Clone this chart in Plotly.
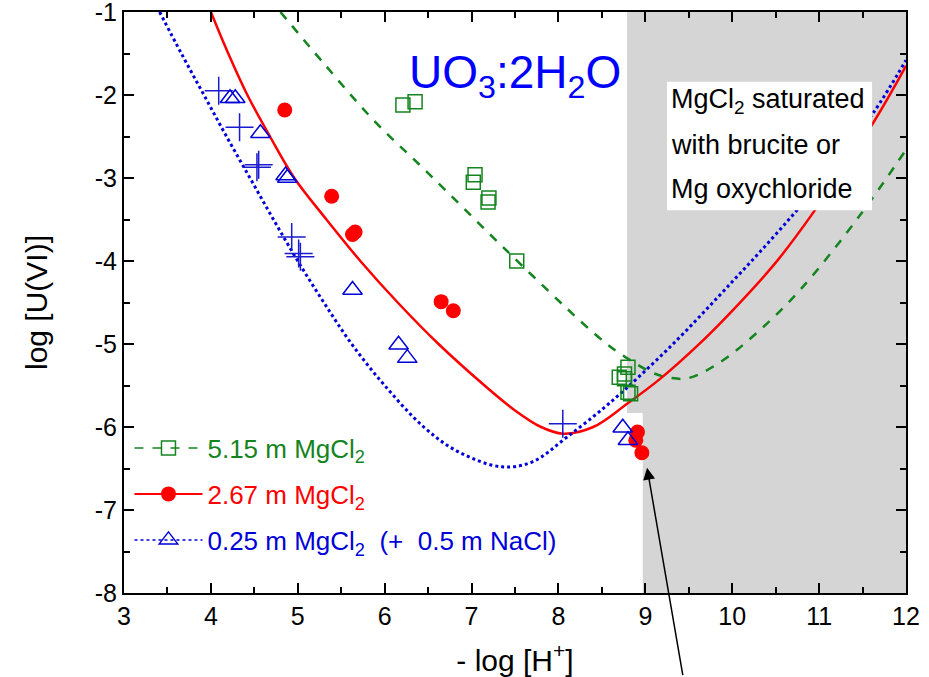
import plotly.graph_objects as go

# ---------------- data ----------------
# model curves: log[U(VI)] vs -log[H+]
ph_curve_515 = [4.80, 5.30, 5.87, 6.50, 7.36, 8.28, 8.57, 8.73, 9.09, 9.30, 9.50, 9.86, 10.30, 10.78, 11.47, 12.00]
logu_curve_515 = [-1.00, -1.62, -2.30, -2.94, -3.83, -4.75, -5.01, -5.13, -5.35, -5.41, -5.41, -5.22, -4.85, -4.35, -3.45, -2.66]

ph_curve_267 = [4.00, 4.20, 4.42, 4.68, 4.96, 5.33, 5.72, 6.15, 6.62, 7.15, 7.50, 7.80, 8.05, 8.40, 8.79, 9.17, 9.60, 10.00, 10.50, 10.93, 11.62, 12.00]
logu_curve_267 = [-1.00, -1.50, -2.00, -2.50, -3.00, -3.50, -4.00, -4.50, -5.00, -5.50, -5.80, -6.00, -6.08, -6.00, -5.72, -5.42, -5.02, -4.60, -4.02, -3.42, -2.34, -1.65]

ph_curve_025 = [3.41, 3.66, 3.92, 4.18, 4.45, 4.72, 5.00, 5.30, 5.62, 6.00, 6.45, 6.85, 7.35, 7.70, 8.10, 8.59, 9.28, 10.00, 10.50, 11.00, 11.62, 12.00]
logu_curve_025 = [-1.00, -1.50, -2.00, -2.50, -3.00, -3.50, -4.00, -4.50, -5.00, -5.50, -6.00, -6.30, -6.48, -6.42, -6.12, -5.71, -5.04, -4.25, -3.68, -3.07, -2.22, -1.58]

# experimental points
ph_exp_515 = [6.21, 6.35, 7.02, 7.04, 7.19, 7.20, 7.52, 8.80, 8.76, 8.70, 8.76, 8.80, 8.83]
logu_exp_515 = [-2.12, -2.08, -3.05, -2.96, -3.29, -3.24, -4.00, -5.28, -5.36, -5.40, -5.42, -5.58, -5.60]

ph_exp_267 = [4.85, 5.39, 5.66, 5.63, 6.65, 6.79, 8.91, 8.89, 8.96]
logu_exp_267 = [-2.18, -3.22, -3.65, -3.68, -4.49, -4.60, -6.06, -6.16, -6.31]

ph_exp_025 = [4.22, 4.28, 4.57, 4.88, 4.86, 5.63, 6.16, 6.26, 8.74, 8.80]
logu_exp_025 = [-2.04, -2.04, -2.46, -3.00, -2.97, -4.35, -5.01, -5.17, -6.01, -6.16]

ph_exp_nacl = [4.09, 4.33, 4.53, 4.55, 4.93, 5.03, 5.01, 8.05]
logu_exp_nacl = [-1.95, -2.39, -2.87, -2.84, -3.71, -3.95, -3.91, -5.96]

# shaded region (MgCl2 saturated), with notch around low points
shade_x = [8.79, 12.0, 12.0, 8.97, 8.97, 8.79, 8.79]
shade_y = [-1.0, -1.0, -8.0, -8.0, -5.83, -5.83, -1.0]

x_ticks = [3, 4, 5, 6, 7, 8, 9, 10, 11, 12]
x_ticktext = ["3", "4", "5", "6", "7", "8", "9", "10", "11", "12"]
y_ticks = [-1, -2, -3, -4, -5, -6, -7, -8]
y_ticktext = ["-1", "-2", "-3", "-4", "-5", "-6", "-7", "-8"]

names = [
    '<span style="color:#14841e">5.15 m MgCl<sub>2</sub></span>',
    '<span style="color:#ff0000">2.67 m MgCl<sub>2</sub></span>',
    '<span style="color:#0000d8">0.25 m MgCl<sub>2</sub>  (+  0.5 m NaCl)</span>',
]

GREEN = "#14841e"
RED = "#ff0000"
BLUE = "#0000d8"
FONT = "Liberation Sans, Arial, sans-serif"

fig = go.Figure()

fig.add_trace(go.Scatter(x=shade_x, y=shade_y, fill="toself", fillcolor="#d5d5d5",
                         line=dict(width=0), mode="lines", showlegend=False, hoverinfo="skip"))

# model curves
fig.add_trace(go.Scatter(x=ph_curve_515, y=logu_curve_515, mode="lines",
                         line=dict(color=GREEN, width=2.5, dash="dash", shape="spline", smoothing=1.0),
                         showlegend=False))
fig.add_trace(go.Scatter(x=ph_curve_267, y=logu_curve_267, mode="lines",
                         line=dict(color=RED, width=2.5, shape="spline", smoothing=1.0),
                         showlegend=False))
fig.add_trace(go.Scatter(x=ph_curve_025, y=logu_curve_025, mode="lines",
                         line=dict(color=BLUE, width=3, dash="dot", shape="spline", smoothing=1.0),
                         showlegend=False))

# experimental data
sq_marker = dict(symbol="square-open", size=14, color=GREEN, line=dict(color=GREEN, width=1.5))
ci_marker = dict(symbol="circle", size=15, color=RED)
tr_marker = dict(symbol="triangle-up-open", size=17, color=BLUE, line=dict(color=BLUE, width=1.5))

fig.add_trace(go.Scatter(x=ph_exp_nacl, y=logu_exp_nacl, mode="markers",
                         marker=dict(symbol="cross-thin-open", size=20, color="#1a1ad0",
                                     line=dict(color="#1a1ad0", width=1.5)),
                         showlegend=False))
fig.add_trace(go.Scatter(x=ph_exp_515, y=logu_exp_515, mode="markers", marker=sq_marker, showlegend=False))
fig.add_trace(go.Scatter(x=ph_exp_267, y=logu_exp_267, mode="markers", marker=ci_marker, showlegend=False))
fig.add_trace(go.Scatter(x=ph_exp_025, y=logu_exp_025, mode="markers", marker=tr_marker, showlegend=False))

# legend-only entries (line + marker), each in its own legend box
fig.add_trace(go.Scatter(x=[None], y=[None], mode="lines+markers", name=names[0], legend="legend",
                         line=dict(color=GREEN, width=1.5, dash="dash"), marker=sq_marker))
fig.add_trace(go.Scatter(x=[None], y=[None], mode="lines+markers", name=names[1], legend="legend2",
                         line=dict(color=RED, width=2), marker=ci_marker))
fig.add_trace(go.Scatter(x=[None], y=[None], mode="lines+markers", name=names[2], legend="legend3",
                         line=dict(color=BLUE, width=1.5, dash="dot"), marker=tr_marker))

axis_common = dict(showline=True, linecolor="black", linewidth=2, mirror="ticks",
                   ticks="inside", ticklen=10, tickwidth=1.5, tickcolor="black",
                   showgrid=False, zeroline=False, ticklabeloverflow="allow", automargin=False,
                   tickfont=dict(family=FONT, size=25, color="black"),
                   minor=dict(ticks="inside", ticklen=6, tickwidth=1.5, tickcolor="black", dtick=0.5))

fig.update_xaxes(range=[3, 12], tickvals=x_ticks, ticktext=x_ticktext,
                 title=dict(text="- log [H<sup>+</sup>]", font=dict(family=FONT, size=30, color="black"), standoff=22),
                 **axis_common)
fig.update_yaxes(range=[-8, -1], tickvals=y_ticks, ticktext=y_ticktext,
                 title=dict(text="log [U(VI)]", font=dict(family=FONT, size=30, color="black"), standoff=38),
                 **axis_common)

fig.add_annotation(x=7.5, y=-1.77, xref="x", yref="y", text="UO<sub>3</sub>:2H<sub>2</sub>O",
                   showarrow=False, font=dict(family=FONT, size=46, color="#0000ff"))

# text box
fig.add_shape(type="rect", xref="x", yref="y", x0=9.25, x1=11.61, y0=-3.39, y1=-1.84,
              fillcolor="white", line=dict(width=0), layer="above")
for txt, yy in [("MgCl<sub>2</sub> saturated", -2.07), ("with brucite or", -2.60), ("Mg oxychloride", -3.13)]:
    fig.add_annotation(x=9.27, y=yy, xref="x", yref="y", text=txt, xanchor="left", yanchor="middle",
                       showarrow=False, font=dict(family=FONT, size=27, color="black"))

# arrow
fig.add_annotation(x=9.02, y=-6.49, xref="x", yref="y", ax=36, ay=209, axref="pixel", ayref="pixel",
                   text="", showarrow=True, arrowhead=2, arrowsize=1.6, arrowwidth=1.5, arrowcolor="black")

legend_style = dict(x=0.007, xanchor="left", yanchor="middle", bgcolor="rgba(0,0,0,0)",
                    font=dict(family=FONT, size=26), itemwidth=68)

fig.update_layout(
    width=929, height=677,
    margin=dict(l=124, r=23, t=12, b=84),
    plot_bgcolor="white", paper_bgcolor="white",
    hovermode=False,
    legend=dict(y=0.2496, **legend_style),
    legend2=dict(y=0.1704, **legend_style),
    legend3=dict(y=0.0912, **legend_style),
)

fig.write_html("out.html")
